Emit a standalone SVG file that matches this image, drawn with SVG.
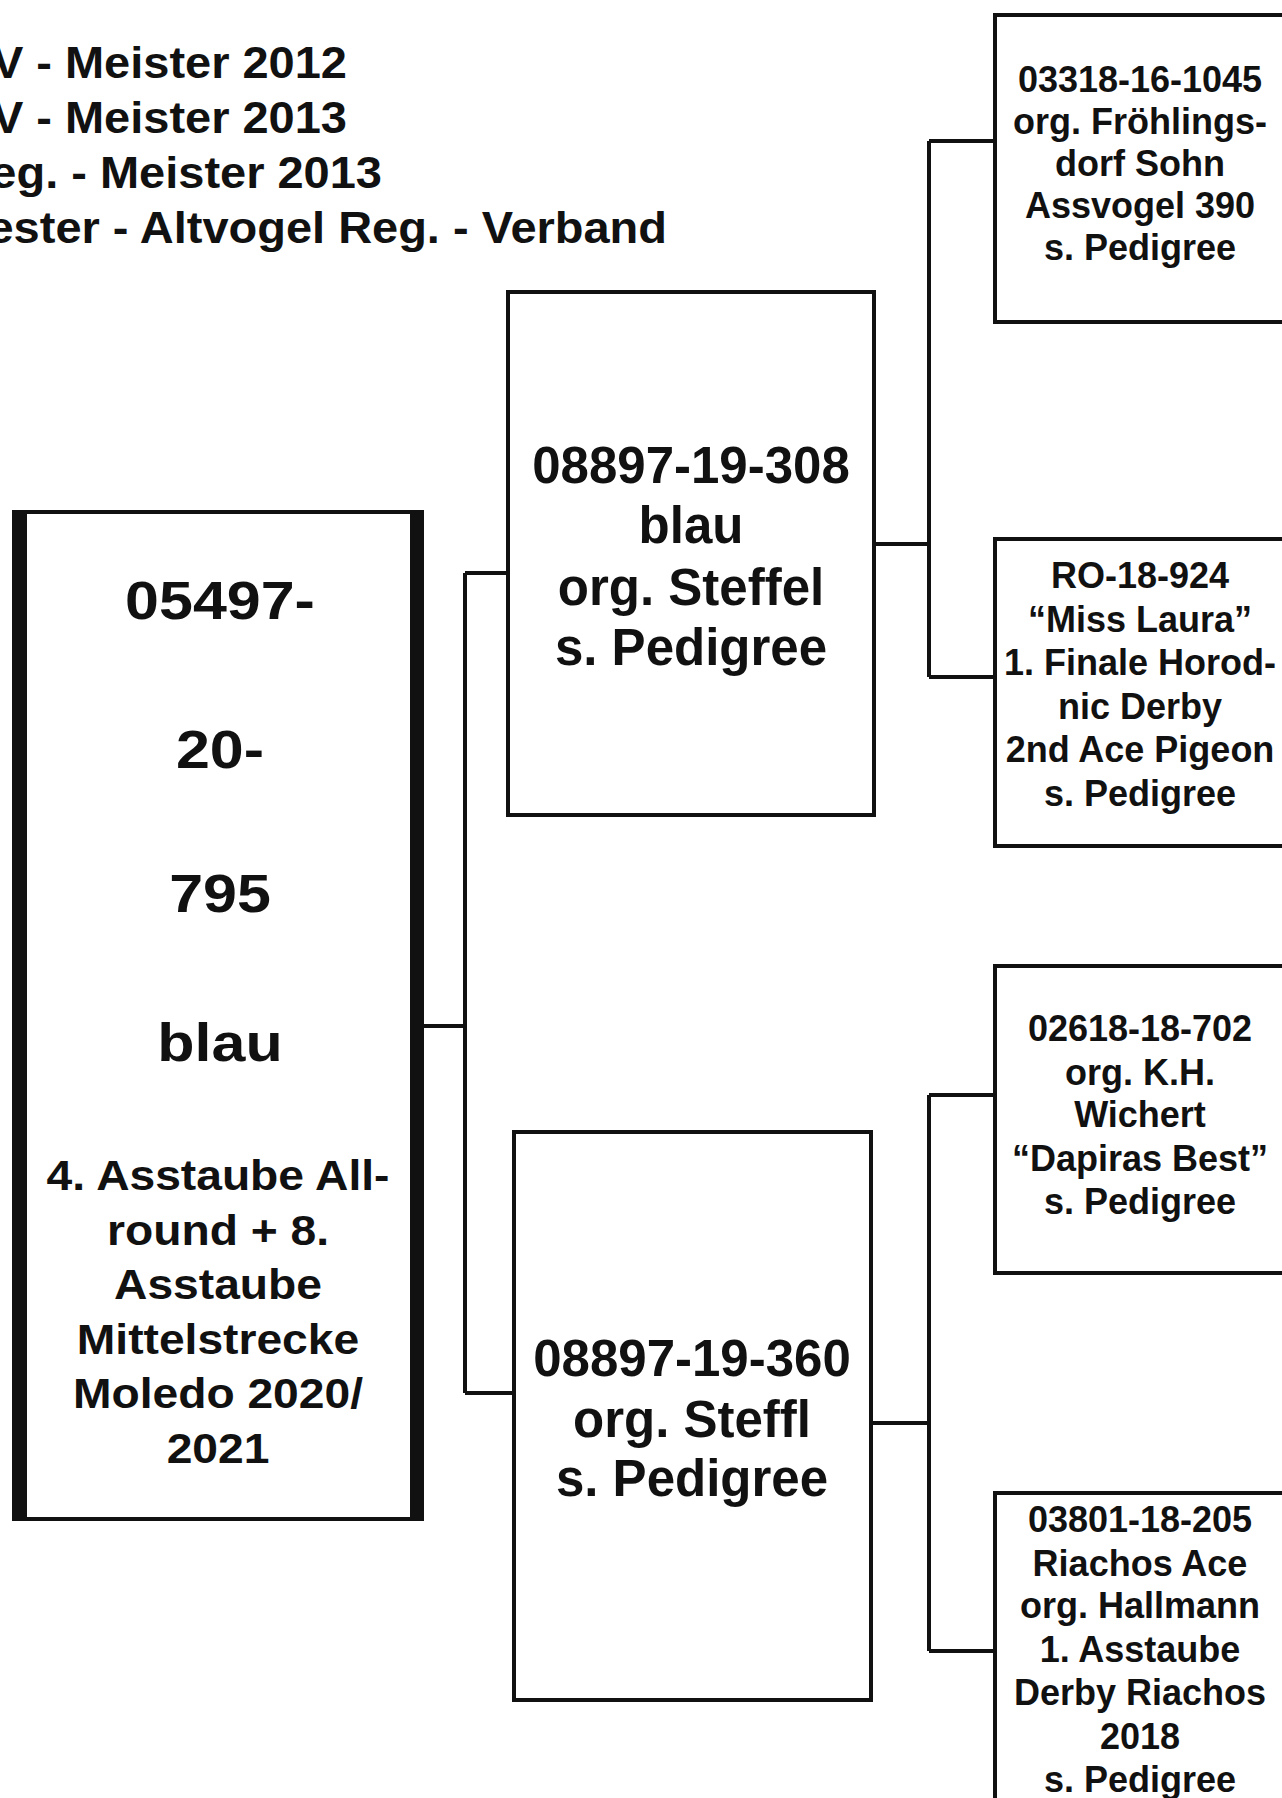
<svg xmlns="http://www.w3.org/2000/svg" width="1282" height="1798" viewBox="0 0 1282 1798">
<style>
  text { font-family: "Liberation Sans", Arial, sans-serif; font-weight: bold; fill: #111; }
  .box { fill: #fff; stroke: #111; stroke-width: 4; }
  .conn { fill: none; stroke: #111; stroke-width: 4; }
  .mid { font-size: 51px; text-anchor: middle; }
  .sm { font-size: 36px; text-anchor: middle; }
  .big { font-size: 53px; text-anchor: middle; }
  .mtx { font-size: 42px; text-anchor: middle; }
  .hdr { font-size: 43.5px; text-anchor: end; }
</style>
<rect width="1282" height="1798" fill="#fff"/>

<g id="header">
  <text class="hdr" transform="translate(347,78) scale(1.08,1)">V - Meister 2012</text>
  <text class="hdr" transform="translate(347,133) scale(1.08,1)">V - Meister 2013</text>
  <text class="hdr" transform="translate(382,188) scale(1.08,1)">eg. - Meister 2013</text>
  <text class="hdr" transform="translate(667,243) scale(1.08,1)">ester - Altvogel Reg. - Verband</text>
</g>

<g id="connectors">
  <path class="conn" d="M424,1026 H465 M465,573 V1393 M465,573 H508 M465,1393 H514"/>
  <path class="conn" d="M874,544 H929 M929,141 V677 M929,141 H995 M929,677 H995"/>
  <path class="conn" d="M871,1423 H929 M929,1095 V1651 M929,1095 H995 M929,1651 H995"/>
</g>

<g id="main">
  <rect class="box" x="14" y="512" width="408" height="1007"/>
  <rect x="12" y="510" width="15" height="1011" fill="#111"/>
  <rect x="410" y="510" width="14" height="1011" fill="#111"/>
  <g transform="translate(220,0) scale(1.15,1)">
    <text class="big" x="0" y="619">05497-</text>
    <text class="big" x="0" y="768">20-</text>
    <text class="big" x="0" y="912">795</text>
    <text class="big" x="0" y="1061">blau</text>
  </g>
  <g transform="translate(218,0) scale(1.1,1)">
    <text class="mtx" x="0" y="1190">4. Asstaube All-</text>
    <text class="mtx" x="0" y="1245">round + 8.</text>
    <text class="mtx" x="0" y="1299">Asstaube</text>
    <text class="mtx" x="0" y="1354">Mittelstrecke</text>
    <text class="mtx" x="0" y="1408">Moledo 2020/</text>
    <text class="mtx" x="0" y="1463">2021</text>
  </g>
</g>

<g id="sire">
  <rect class="box" x="508" y="292" width="366" height="523"/>
  <text class="mid" x="691" y="483">08897-19-308</text>
  <text class="mid" x="691" y="543">blau</text>
  <text class="mid" x="691" y="605">org. Steffel</text>
  <text class="mid" x="691" y="665">s. Pedigree</text>
</g>

<g id="dam">
  <rect class="box" x="514" y="1132" width="357" height="568"/>
  <text class="mid" x="692" y="1376">08897-19-360</text>
  <text class="mid" x="692" y="1437">org. Steffl</text>
  <text class="mid" x="692" y="1496">s. Pedigree</text>
</g>

<g id="gs1">
  <rect class="box" x="995" y="15" width="300" height="307"/>
  <text class="sm" x="1140" y="92">03318-16-1045</text>
  <text class="sm" x="1140" y="134">org. Fröhlings-</text>
  <text class="sm" x="1140" y="176">dorf Sohn</text>
  <text class="sm" x="1140" y="218">Assvogel 390</text>
  <text class="sm" x="1140" y="260">s. Pedigree</text>
</g>

<g id="gd1">
  <rect class="box" x="995" y="539" width="300" height="307"/>
  <text class="sm" x="1140" y="588">RO-18-924</text>
  <text class="sm" x="1140" y="632">“Miss Laura”</text>
  <text class="sm" x="1140" y="675">1. Finale Horod-</text>
  <text class="sm" x="1140" y="719">nic Derby</text>
  <text class="sm" x="1140" y="762">2nd Ace Pigeon</text>
  <text class="sm" x="1140" y="806">s. Pedigree</text>
</g>

<g id="gs2">
  <rect class="box" x="995" y="966" width="300" height="307"/>
  <text class="sm" x="1140" y="1041">02618-18-702</text>
  <text class="sm" x="1140" y="1085">org. K.H.</text>
  <text class="sm" x="1140" y="1127">Wichert</text>
  <text class="sm" x="1140" y="1171">“Dapiras Best”</text>
  <text class="sm" x="1140" y="1214">s. Pedigree</text>
</g>

<g id="gd2">
  <rect class="box" x="995" y="1493" width="300" height="330"/>
  <text class="sm" x="1140" y="1532">03801-18-205</text>
  <text class="sm" x="1140" y="1576">Riachos Ace</text>
  <text class="sm" x="1140" y="1618">org. Hallmann</text>
  <text class="sm" x="1140" y="1662">1. Asstaube</text>
  <text class="sm" x="1140" y="1705">Derby Riachos</text>
  <text class="sm" x="1140" y="1749">2018</text>
  <text class="sm" x="1140" y="1792">s. Pedigree</text>
</g>
</svg>
